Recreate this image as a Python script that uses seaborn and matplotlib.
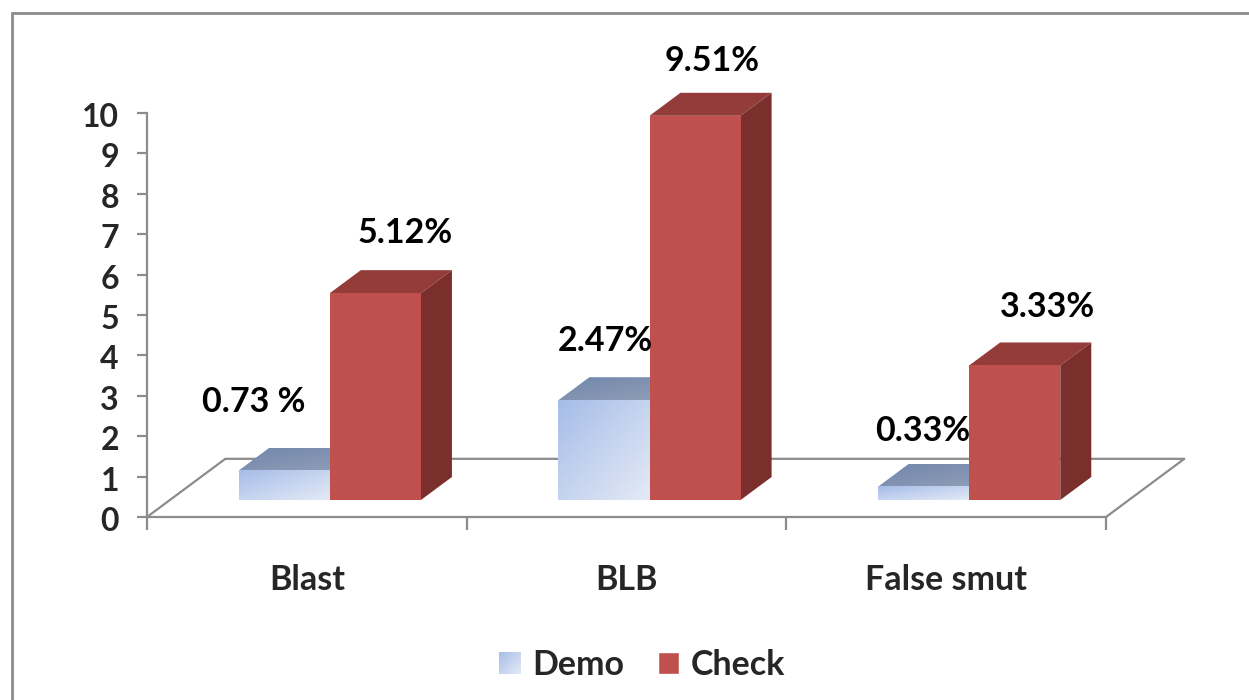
import matplotlib
matplotlib.use("Agg")
import matplotlib.pyplot as plt
import numpy as np
import pandas as pd
import seaborn as sns
from matplotlib.colors import LinearSegmentedColormap
from matplotlib.lines import Line2D
from matplotlib.patches import Patch, Polygon
from matplotlib.transforms import ScaledTranslation

# Data
diseases = ["Blast", "BLB", "False smut"]
series_names = ["Demo", "Check"]
demo_values = [0.73, 2.47, 0.33]
check_values = [5.12, 9.51, 3.33]
demo_labels = ["0.73 %", "2.47%", "0.33%"]
check_labels = ["5.12%", "9.51%", "3.33%"]
y_ticks = list(range(0, 11))

# Label nudges in pixels from the top of each bar
demo_offsets = [(-31, 69), (1, 59), (-1, 56)]
check_offsets = [(30, 60), (17, 55), (33, 58)]

W, H = 1249, 700
GRAY = "#8c8c8c"
RED_FRONT, RED_SIDE, RED_TOP = "#c0504d", "#7b2f2d", "#933c3a"
TEXT_SIZE = 24.5

sns.set_style("white")
plt.rcParams["font.family"] = ["Lato", "DejaVu Sans"]
plt.rcParams["font.weight"] = "bold"
plt.rcParams["axes.linewidth"] = 1.6

df = pd.DataFrame({
    "disease": diseases * 2,
    "series": [series_names[0]] * 3 + [series_names[1]] * 3,
    "value": demo_values + check_values,
})


def box(x0, y_top, x1, y_bottom):
    # pixel box to figure fractions
    return [x0 / W, 1 - y_bottom / H, (x1 - x0) / W, (y_bottom - y_top) / H]


fig = plt.figure(figsize=(W / 100, H / 100), dpi=100)

# Outer frame, it runs off the right and bottom of the picture
fig.add_artist(Line2D([12 / W, 12 / W], [0, 1 - 13 / H], color=GRAY, lw=2))
fig.add_artist(Line2D([12 / W, 1], [1 - 13 / H, 1 - 13 / H], color=GRAY, lw=2))

# Axis with the ticks
ax = fig.add_axes(box(147, 113, 1106, 517))
ax.set_xlim(-0.5, 2.5)
ax.set_ylim(0, 10)
ax.set_yticks(y_ticks)
ax.tick_params(axis="y", length=7.2, width=1.6, color=GRAY, left=True, pad=13, labelsize=23)
nudge = ScaledTranslation(0, -2 / 100, fig.dpi_scale_trans)
for tick_label in ax.get_yticklabels():
    tick_label.set_transform(tick_label.get_transform() + nudge)
ax.set_xticks([-0.5, 0.5, 1.5, 2.5])
ax.set_xticklabels([])
ax.set_xticks([0, 1, 2], labels=diseases, minor=True)
ax.tick_params(axis="x", which="major", length=9.4, width=1.6, color=GRAY, bottom=True)
ax.tick_params(axis="x", which="minor", length=0, pad=34, labelsize=TEXT_SIZE)
ax.spines[["top", "right"]].set_visible(False)
ax.spines[["left", "bottom"]].set_color(GRAY)

# Floor outline
floor_dx, floor_dy = 0.245, 1.44
ax.plot([-0.5, -0.5 + floor_dx, 2.5 + floor_dx, 2.5],
        [0, floor_dy, floor_dy, 0], color=GRAY, lw=1.6, clip_on=False, zorder=1)

# Bars stand on the floor, a little behind the front edge
ax_bars = fig.add_axes(box(147 + 23, 113 - 17, 1106 + 23, 517 - 17))
ax_bars.patch.set_alpha(0)
sns.barplot(data=df, x="disease", y="value", hue="series", order=diseases,
            hue_order=series_names, palette=["#c6d4ee", RED_FRONT], saturation=1,
            width=0.57, gap=0, legend=False, linewidth=0, ax=ax_bars)
ax_bars.axis("off")

blue_front = LinearSegmentedColormap.from_list("front", ["#a6bde8", "#e4eaf6"])
blue_top = LinearSegmentedColormap.from_list("top", ["#7187ac", "#939fb8"])
ramp = np.add.outer(np.linspace(0, 1, 64), np.linspace(0, 1, 64)) / 2

dx, dy = 31 / 319.7, 23 / 40.4

for bar in ax_bars.containers[1]:
    x0, w, h = bar.get_x(), bar.get_width(), bar.get_height()
    bar.set_zorder(6)
    bar.set_clip_on(False)
    ax_bars.add_patch(Polygon([(x0, h), (x0 + dx, h + dy), (x0 + w + dx, h + dy), (x0 + w, h)],
                              closed=True, fc=RED_TOP, ec="none", zorder=5, clip_on=False))
    ax_bars.add_patch(Polygon([(x0 + w, 0), (x0 + w + dx, dy), (x0 + w + dx, h + dy), (x0 + w, h)],
                              closed=True, fc=RED_SIDE, ec="none", zorder=5, clip_on=False))

for bar in ax_bars.containers[0]:
    x0, w, h = bar.get_x(), bar.get_width(), bar.get_height()
    top = Polygon([(x0, h), (x0 + dx, h + dy), (x0 + w + dx, h + dy), (x0 + w, h)],
                  closed=True, fc="none", ec="none")
    ax_bars.add_patch(top)
    im = ax_bars.imshow(ramp, cmap=blue_top, extent=(x0, x0 + w + dx, h, h + dy),
                        aspect="auto", zorder=2)
    im.set_clip_path(top)
    ax_bars.imshow(ramp, cmap=blue_front, extent=(x0, x0 + w, 0, h), aspect="auto", zorder=3)

ax_bars.set_xlim(-0.5, 2.5)
ax_bars.set_ylim(0, 10)

# Value labels
for container, labels, offsets in [(ax_bars.containers[0], demo_labels, demo_offsets),
                                   (ax_bars.containers[1], check_labels, check_offsets)]:
    for bar, label, off in zip(container, labels, offsets):
        ax_bars.annotate(label, (bar.get_x() + bar.get_width() / 2, bar.get_height()),
                         xytext=off, textcoords="offset pixels", ha="center", va="center",
                         fontsize=TEXT_SIZE, color="black", zorder=8, annotation_clip=False)

# Legend
handles = [Patch(fc="#c6d4ee", label=series_names[0]), Patch(fc=RED_FRONT, label=series_names[1])]
leg = fig.legend(handles=handles, loc="center", bbox_to_anchor=(642 / W, 1 - 665 / H), ncols=2,
                 frameon=False, fontsize=TEXT_SIZE, handlelength=0.62, handleheight=0.62,
                 handletextpad=0.35, columnspacing=1.0, borderpad=0)

fig.canvas.draw()
swatch = leg.get_patches()[0].get_window_extent()
ax_swatch = fig.add_axes([swatch.x0 / W, swatch.y0 / H, swatch.width / W, swatch.height / H], zorder=10)
ax_swatch.imshow(ramp, cmap=blue_front, aspect="auto")
ax_swatch.axis("off")

fig.savefig("out.png", dpi=100)
